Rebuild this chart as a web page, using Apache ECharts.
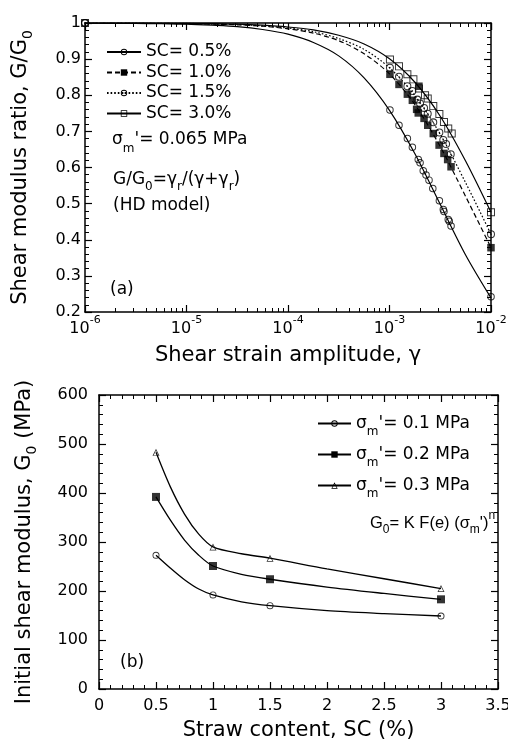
<!DOCTYPE html>
<html><head><meta charset="utf-8">
<script src="https://cdn.jsdelivr.net/npm/echarts@6/dist/echarts.min.js"></script>
<style>html,body{margin:0;padding:0;background:#fff}#c{width:508px;height:740px}</style>
</head><body><div id="c"></div>
<script>
// ---------------- Panel (a) : G/G0 vs shear strain ----------------
const curveGamma = [1e-6, 1.78e-6, 3.16e-6, 5.62e-6, 1e-5, 1.78e-5, 3.16e-5, 5.62e-5, 1e-4, 1.78e-4, 3.16e-4, 5.62e-4, 1e-3, 1.78e-3, 3.16e-3, 5.62e-3, 1e-2];
const curveSC05 = [1.000, 0.999, 0.999, 0.998, 0.997, 0.994, 0.990, 0.982, 0.969, 0.946, 0.909, 0.848, 0.758, 0.638, 0.498, 0.358, 0.239];
const curveSC10 = [1.000, 1.000, 0.999, 0.999, 0.998, 0.997, 0.995, 0.991, 0.984, 0.972, 0.951, 0.915, 0.859, 0.774, 0.658, 0.520, 0.378];
const curveSC15 = [1.000, 1.000, 1.000, 0.999, 0.999, 0.997, 0.996, 0.992, 0.986, 0.976, 0.957, 0.927, 0.876, 0.799, 0.692, 0.558, 0.415];
const curveSC30 = [1.000, 1.000, 1.000, 0.999, 0.999, 0.998, 0.997, 0.994, 0.989, 0.981, 0.966, 0.942, 0.901, 0.836, 0.742, 0.618, 0.476];

const testGammaSC05 = [1e-6, 1.01e-3, 1.24e-3, 1.50e-3, 1.68e-3, 1.92e-3, 2.00e-3, 2.15e-3, 2.29e-3, 2.45e-3, 2.67e-3, 3.10e-3, 3.39e-3, 3.44e-3, 3.79e-3, 3.88e-3, 4.04e-3, 1e-2];
const testRatioSC05 = [1.0, 0.759, 0.717, 0.680, 0.656, 0.622, 0.613, 0.591, 0.579, 0.565, 0.542, 0.508, 0.484, 0.478, 0.456, 0.451, 0.438, 0.242];
const testGammaSC10 = [1.01e-3, 1.24e-3, 1.50e-3, 1.68e-3, 1.85e-3, 1.92e-3, 1.95e-3, 2.19e-3, 2.38e-3, 2.70e-3, 3.08e-3, 3.44e-3, 3.74e-3, 4.04e-3, 1e-2];
const testRatioSC10 = [0.858, 0.830, 0.803, 0.786, 0.761, 0.751, 0.825, 0.736, 0.717, 0.694, 0.662, 0.639, 0.622, 0.602, 0.378];
const testGammaSC15 = [1e-6, 1.01e-3, 1.24e-3, 1.50e-3, 1.68e-3, 1.88e-3, 2.00e-3, 2.19e-3, 2.38e-3, 2.70e-3, 3.10e-3, 3.39e-3, 3.61e-3, 4.01e-3, 1e-2];
const testRatioSC15 = [1.0, 0.876, 0.851, 0.825, 0.812, 0.788, 0.777, 0.765, 0.749, 0.725, 0.697, 0.676, 0.665, 0.637, 0.415];
const testGammaSC30 = [1e-6, 1.01e-3, 1.24e-3, 1.50e-3, 1.72e-3, 1.95e-3, 2.24e-3, 2.38e-3, 2.70e-3, 3.10e-3, 3.44e-3, 3.79e-3, 4.10e-3, 1e-2];
const testRatioSC30 = [1.0, 0.899, 0.880, 0.858, 0.844, 0.819, 0.800, 0.791, 0.770, 0.748, 0.726, 0.708, 0.694, 0.476];

const namesA = ['SC= 0.5%', 'SC= 1.0%', 'SC= 1.5%', 'SC= 3.0%'];
const minorLogTicks = [2e-6, 3e-6, 4e-6, 5e-6, 6e-6, 7e-6, 8e-6, 9e-6,
  2e-5, 3e-5, 4e-5, 5e-5, 6e-5, 7e-5, 8e-5, 9e-5,
  2e-4, 3e-4, 4e-4, 5e-4, 6e-4, 7e-4, 8e-4, 9e-4,
  2e-3, 3e-3, 4e-3, 5e-3, 6e-3, 7e-3, 8e-3, 9e-3];

// ---------------- Panel (b) : G0 vs straw content ----------------
const strawContent = [0.5, 1.0, 1.5, 3.0];
const g0At01 = [273, 192, 170, 149];
const g0At02 = [392, 251, 224, 183];
const g0At03 = [483, 290, 267, 205];
// fitted curves
const fitContent = [0.5, 0.625, 0.75, 0.875, 1.0, 1.25, 1.5, 2.0, 2.5, 3.0];
const fitAt01 = [273, 247, 223, 204, 192, 178, 170, 160, 154, 149];
const fitAt02 = [392, 345, 304, 273, 251, 234, 224, 208, 195, 183];
const fitAt03 = [483, 413, 357, 316, 290, 276, 267, 245, 225, 205];
const namesB = ["σm'= 0.1 MPa", "σm'= 0.2 MPa", "σm'= 0.3 MPa"];

// ---------------- helpers / styles ----------------
const F = 'DejaVu Sans';
const K = '#000';
const zip = (xs, ys) => xs.map((x, i) => [x, ys[i]]);
const RING = 'path://M10,0A10,10,0,1,1,10,20A10,10,0,1,1,10,0ZM10,2.6A7.4,7.4,0,1,0,10,17.4A7.4,7.4,0,1,0,10,2.6Z';
const RING_DOT = RING + 'M10,8A2,2,0,1,1,10,12A2,2,0,1,1,10,8Z';
const SQ_RING = 'path://M0,0H20V20H0ZM2.4,2.4V17.6H17.6V2.4Z';
const TRI_RING = 'path://M10,0L20,18L0,18ZM10,4.6L3.4,16.2L16.6,16.2Z';
const richSub = {
  n: {fontFamily: F, fontSize: 17, fill: K, color: K},
  s: {fontFamily: F, fontSize: 12, fill: K, color: K, padding: [14, 0, 0, 0]},
  sm: {fontFamily: F, fontSize: 12, fill: K, color: K, padding: [17, 0, 0, 0]}
};
const richFormula = {
  n: {fontFamily: 'Liberation Sans', fontSize: 16.5, fill: K, color: K},
  s: {fontFamily: 'Liberation Sans', fontSize: 12, fill: K, color: K, padding: [14, 0, 0, 0]},
  p: {fontFamily: 'Liberation Sans', fontSize: 12, fill: K, color: K, padding: [0, 0, 14, 0]}
};
const axisLine = {show: true, onZero: false, lineStyle: {color: K, width: 1.5}};
const majorTick = {show: true, inside: true, length: 7, lineStyle: {color: K, width: 1.2}};
const minorTick = {show: true, splitNumber: 5, length: 4, lineStyle: {color: K, width: 1}};

const logMain = {type: 'log', logBase: 10, min: 1e-6, max: 1e-2, gridIndex: 0, splitLine: {show: false}, axisLine: axisLine, axisTick: majorTick};
// exponent axis used only to place the 2..9 minor ticks of each decade
const expMinor = {type: 'value', min: -6, max: -2, gridIndex: 0, splitLine: {show: false}, axisLine: {show: false},
  axisTick: {show: true, inside: true, length: 4, customValues: minorLogTicks.map(Math.log10), lineStyle: {color: K, width: 1}},
  axisLabel: {show: false}};

const xAxes = [
  Object.assign({}, logMain, {position: 'bottom',
    axisLabel: {show: true, margin: 3, color: K,
      formatter: v => '{b|10}{e|' + Math.round(Math.log10(v)) + '}',
      rich: {b: {fontFamily: F, fontSize: 16, color: K}, e: {fontFamily: F, fontSize: 11, color: K, padding: [0, 0, 16, 0]}}},
    name: 'Shear strain amplitude, γ', nameLocation: 'middle', nameGap: 33, nameMoveOverlap: false,
    nameTextStyle: {fontFamily: F, fontSize: 21, color: K}}),
  Object.assign({}, expMinor, {position: 'bottom'}),
  Object.assign({}, logMain, {position: 'top', axisLabel: {show: false}}),
  Object.assign({}, expMinor, {position: 'top'}),
  {type: 'value', gridIndex: 1, position: 'bottom', min: 0, max: 3.5, interval: 0.5, splitLine: {show: false}, axisLine: axisLine,
    axisTick: majorTick, minorTick: minorTick,
    axisLabel: {show: true, margin: 9, color: K, fontFamily: F, fontSize: 16, showMaxLabel: true, hideOverlap: false},
    name: 'Straw content, SC (%)', nameLocation: 'middle', nameGap: 31, nameMoveOverlap: false,
    nameTextStyle: {fontFamily: F, fontSize: 21, color: K}},
  {type: 'value', gridIndex: 1, position: 'top', min: 0, max: 3.5, interval: 0.5, splitLine: {show: false}, axisLine: axisLine,
    axisTick: majorTick, minorTick: minorTick, axisLabel: {show: false}}
];
const yAxes = [
  {type: 'value', gridIndex: 0, position: 'left', min: 0.2, max: 1, interval: 0.1, splitLine: {show: false}, axisLine: axisLine,
    axisTick: majorTick, minorTick: minorTick,
    axisLabel: {show: true, margin: 4, color: K, fontFamily: F, fontSize: 16, showMaxLabel: true, showMinLabel: true},
    name: '{n|Shear modulus ratio, G/G}{s|0}', nameLocation: 'middle', nameGap: 50, nameRotate: 90, nameMoveOverlap: false,
    nameTextStyle: {fontFamily: F, fontSize: 21, color: K,
      rich: {n: {fontFamily: F, fontSize: 21, color: K}, s: {fontFamily: F, fontSize: 14, color: K, padding: [14, 0, 0, 0]}}}},
  {type: 'value', gridIndex: 0, position: 'right', min: 0.2, max: 1, interval: 0.1, splitLine: {show: false}, axisLine: axisLine,
    axisTick: majorTick, minorTick: minorTick, axisLabel: {show: false}},
  {type: 'value', gridIndex: 1, position: 'left', min: 0, max: 600, interval: 100, splitLine: {show: false}, axisLine: axisLine,
    axisTick: majorTick, minorTick: minorTick,
    axisLabel: {show: true, margin: 11, color: K, fontFamily: F, fontSize: 16, showMaxLabel: true, showMinLabel: true},
    name: '{n|Initial shear modulus, G}{s|0}{n| (MPa)}', nameLocation: 'middle', nameGap: 60, nameRotate: 90, nameMoveOverlap: false,
    nameTextStyle: {fontFamily: F, fontSize: 21, color: K,
      rich: {n: {fontFamily: F, fontSize: 21, color: K}, s: {fontFamily: F, fontSize: 14, color: K, padding: [14, 0, 0, 0]}}}},
  {type: 'value', gridIndex: 1, position: 'right', min: 0, max: 600, interval: 100, splitLine: {show: false}, axisLine: axisLine,
    axisTick: majorTick, minorTick: minorTick, axisLabel: {show: false}}
];

const curvesA = [curveSC05, curveSC10, curveSC15, curveSC30];
const testsA = [[testGammaSC05, testRatioSC05], [testGammaSC10, testRatioSC10], [testGammaSC15, testRatioSC15], [testGammaSC30, testRatioSC30]];
const symbolsA = [RING, 'rect', RING_DOT, SQ_RING];
const symbolSizesA = [7.5, 7.5, 8, 8];
const lineTypesA = ['solid', [5, 3], [1.6, 2], 'solid'];

const series = [];
curvesA.forEach((c, i) => {
  series.push({type: 'line', name: namesA[i], xAxisIndex: 0, yAxisIndex: 0, data: zip(curveGamma, c),
    smooth: 0.3, showSymbol: false, symbol: symbolsA[i], symbolSize: 7,
    lineStyle: {color: K, width: 1.2, type: lineTypesA[i]}, itemStyle: {color: K}, z: 2});
});
[1, 0, 2, 3].forEach(i => {
  const t = testsA[i];
  series.push({type: 'scatter', name: namesA[i] + ' test', xAxisIndex: 0, yAxisIndex: 0, data: zip(t[0], t[1]),
    symbol: symbolsA[i], symbolSize: symbolSizesA[i], itemStyle: {color: K}, clip: false, z: 3});
});
const fitsB = [fitAt01, fitAt02, fitAt03];
const g0Sets = [g0At01, g0At02, g0At03];
const symbolsB = [RING, 'rect', TRI_RING];
const symbolSizesB = [7, 8, 7];
fitsB.forEach((f, i) => {
  series.push({type: 'line', name: namesB[i], xAxisIndex: 4, yAxisIndex: 2, data: zip(fitContent, f),
    smooth: 0.3, showSymbol: false, symbol: symbolsB[i], symbolSize: symbolSizesB[i],
    lineStyle: {color: K, width: 1.3}, itemStyle: {color: K}, z: 2});
});
g0Sets.forEach((g, i) => {
  series.push({type: 'scatter', name: namesB[i] + ' test', xAxisIndex: 4, yAxisIndex: 2, data: zip(strawContent, g),
    symbol: symbolsB[i], symbolSize: symbolSizesB[i], itemStyle: {color: K}, z: 3});
});

const option = {
  backgroundColor: '#fff',
  animation: false,
  textStyle: {fontFamily: F, color: K},
  grid: [
    {left: 85, right: 17, top: 23, height: 289, outerBoundsMode: 'none', containLabel: false},
    {left: 99, right: 10, top: 395, height: 294, outerBoundsMode: 'none', containLabel: false}
  ],
  xAxis: xAxes,
  yAxis: yAxes,
  legend: [
    {data: namesA, orient: 'vertical', left: 106, top: 43, padding: 0, itemWidth: 34, itemHeight: 8, itemGap: 2.5,
      selectedMode: false, textStyle: {fontFamily: F, fontSize: 17, color: K, lineHeight: 18}},
    {data: namesB, orient: 'vertical', left: 317, top: 415, padding: 0, itemWidth: 33, itemHeight: 8, itemGap: 8,
      selectedMode: false,
      formatter: n => '{n|σ}{sm|m}{n|' + n.slice(2) + '}',
      textStyle: {fontFamily: F, fontSize: 17, color: K, rich: richSub}}
  ],
  graphic: [
    {type: 'text', x: 112, y: 140, style: {text: "{n|σ}{sm|m}{n|'= 0.065 MPa}", rich: richSub, verticalAlign: 'middle', fill: K}},
    {type: 'text', x: 113, y: 180, style: {text: '{n|G/G}{s|0}{n|=γ}{s|r}{n|/(γ+γ}{s|r}{n|)}', rich: richSub, verticalAlign: 'middle', fill: K}},
    {type: 'text', x: 113, y: 206, style: {text: '(HD model)', fontFamily: F, fontSize: 17, verticalAlign: 'middle', fill: K}},
    {type: 'text', x: 110, y: 290, style: {text: '(a)', fontFamily: F, fontSize: 17, verticalAlign: 'middle', fill: K}},
    {type: 'text', x: 370, y: 523, style: {text: "{n|G}{s|0}{n|= K F(e) (σ}{s|m}{n|')}{p|n}", rich: richFormula, verticalAlign: 'middle', fill: K}},
    {type: 'text', x: 120, y: 663, style: {text: '(b)', fontFamily: F, fontSize: 17, verticalAlign: 'middle', fill: K}}
  ],
  series: series
};
const chart = echarts.init(document.getElementById('c'), null, {renderer: 'canvas'});
chart.setOption(option);
</script></body></html>
